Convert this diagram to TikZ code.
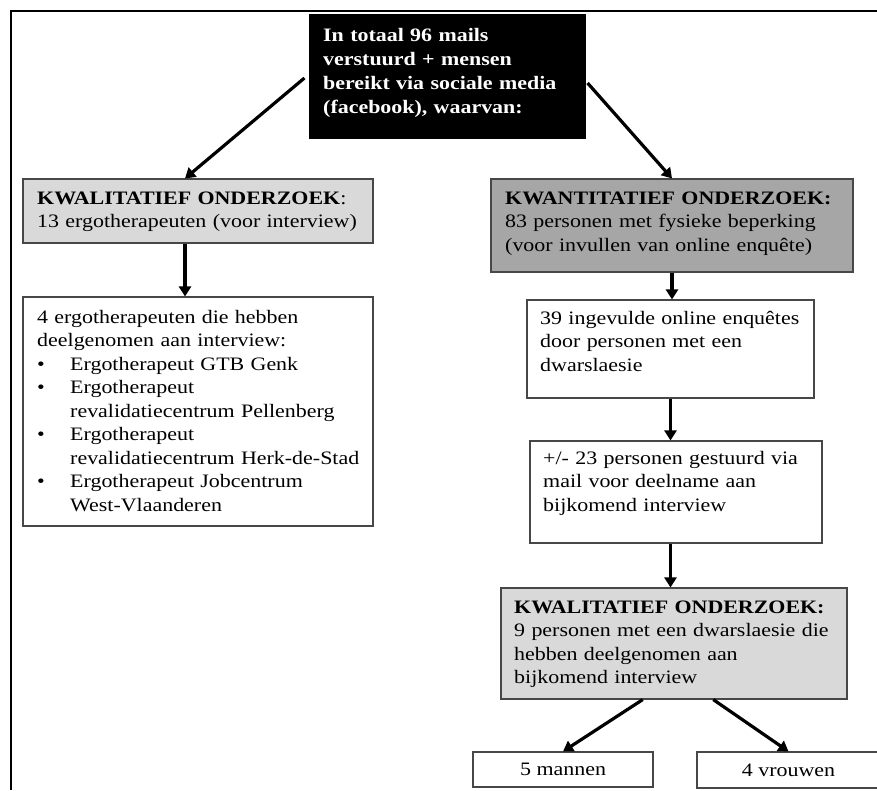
\documentclass[tikz,border=0pt]{standalone}
\usepackage{fontspec}
\setmainfont{Liberation Serif}[FakeStretch=1.155]
\usetikzlibrary{arrows.meta,calc}
\definecolor{lightbox}{HTML}{D9D9D9}
\definecolor{darkbox}{HTML}{A6A6A6}
\begin{document}
\begin{tikzpicture}[x=1pt,y=-1pt,
  box/.style={draw=black!72,line width=1.1pt,rectangle,inner sep=0pt},
  txt/.style={inner sep=0pt,anchor=base west,text width=420pt,align=left,
    font=\fontsize{19}{23.5}\selectfont},
  arr/.style={line width=3.2pt,-{Triangle[length=10pt,width=12pt]}},
  frameline/.style={line width=2pt,black}]
\useasboundingbox (0,0) rectangle (877,790);
\clip (0,0) rectangle (877,790);
% frame
\draw[frameline] (11,790) -- (11,11) -- (877,11);
% boxes
\node[box,fill=black,draw=black,minimum width=275pt,minimum height=123pt] (top) at (447.5,76.5) {};
\node[box,fill=lightbox,minimum width=350pt,minimum height=64pt] (kwal) at (198,211) {};
\node[box,fill=white,minimum width=350pt,minimum height=229pt] (ergo) at (198,411.5) {};
\node[box,fill=darkbox,minimum width=362pt,minimum height=93pt] (kwan) at (672,225.5) {};
\node[box,fill=white,minimum width=287pt,minimum height=98pt] (b39) at (670.5,349) {};
\node[box,fill=white,minimum width=292pt,minimum height=102pt] (b23) at (676,492) {};
\node[box,fill=lightbox,minimum width=346pt,minimum height=111pt] (kwal2) at (674,643.5) {};
\node[box,fill=white,minimum width=180pt,minimum height=35pt,font=\fontsize{19}{23.5}\selectfont] (mannen) at (563,769.5) {5 mannen};
\node[box,fill=white,minimum width=183pt,minimum height=36pt,font=\fontsize{19}{23.5}\selectfont] (vrouwen) at (788.5,770) {4 vrouwen};
% texts
\node[txt,text=white,font=\bfseries\fontsize{19}{24.3}\selectfont] (toptext) at (323,41)
  {In totaal 96 mails\\verstuurd + mensen\\bereikt via sociale media\\(facebook), waarvan:};
\node[txt] (kwaltext) at (37,204)
  {\textbf{KWALITATIEF ONDERZOEK}:\\13 ergotherapeuten (voor interview)};
\node[txt] (ergotext) at (37,323)
  {4 ergotherapeuten die hebben\\deelgenomen aan interview:\\
   \makebox[33pt][l]{\textbullet}Ergotherapeut GTB Genk\\
   \makebox[33pt][l]{\textbullet}Ergotherapeut\\
   \hspace*{33pt}revalidatiecentrum Pellenberg\\
   \makebox[33pt][l]{\textbullet}Ergotherapeut\\
   \hspace*{33pt}revalidatiecentrum Herk-de-Stad\\
   \makebox[33pt][l]{\textbullet}Ergotherapeut Jobcentrum\\
   \hspace*{33pt}West-Vlaanderen};
\node[txt] (kwantext) at (505,204)
  {\textbf{KWANTITATIEF ONDERZOEK:}\\83 personen met fysieke beperking\\(voor invullen van online enquête)};
\node[txt] (b39text) at (540,324)
  {39 ingevulde online enquêtes\\door personen met een\\dwarslaesie};
\node[txt] (b23text) at (543,464)
  {+/- 23 personen gestuurd via\\mail voor deelname aan\\bijkomend interview};
\node[txt] (kwal2text) at (514,613)
  {\textbf{KWALITATIEF ONDERZOEK:}\\9 personen met een dwarslaesie die\\hebben deelgenomen aan\\bijkomend interview};
% arrows
\draw[arr] ([shift={(-5pt,-1.5pt)}]top.west) -- ($(kwal.north west)!0.463!(kwal.north east)$);
\draw[arr] ([shift={(2pt,-6.5pt)}]top.east) -- (kwan.north);
\draw[arr] ($(kwal.south west)!0.463!(kwal.south east)$) -- ($(ergo.north west)!0.463!(ergo.north east)$);
\draw[arr] (kwan.south) -- (kwan.south |- b39.north);
\draw[arr] (b39.south) -- (b39.south |- b23.north);
\draw[arr] (b39.south |- b23.south) -- (b39.south |- kwal2.north);
\draw[arr] ($(kwal2.south west)!0.41!(kwal2.south east)$) -- (mannen.north);
\draw[arr] ($(kwal2.south west)!0.613!(kwal2.south east)$) -- (vrouwen.north);
\end{tikzpicture}
\end{document}
